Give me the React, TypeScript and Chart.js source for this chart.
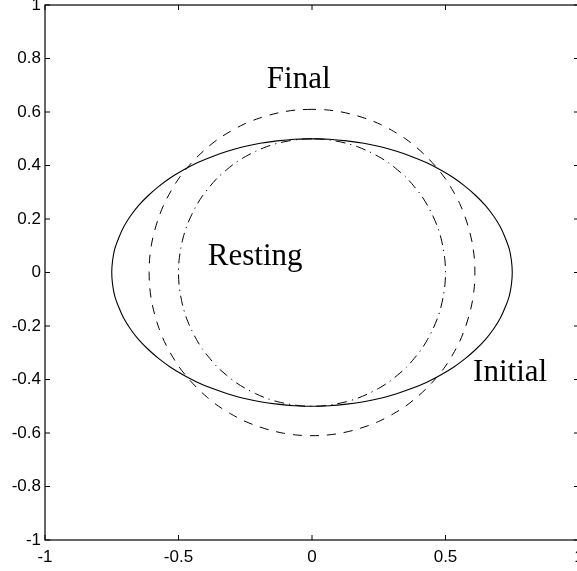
import React, { useEffect, useRef } from "react";
import { Chart, registerables } from "chart.js";

Chart.register(...registerables);

// Outline of the initial (elliptical) shape, sampled every 5 degrees from the top
const initialX = [
  0, -0.065, -0.13, -0.194, -0.257, -0.317, -0.375, -0.43, -0.482, -0.53, -0.575, -0.614, -0.65, -0.68, -0.705, -0.724, -0.739, -0.747, -0.75,
  -0.747, -0.739, -0.724, -0.705, -0.68, -0.65, -0.614, -0.575, -0.53, -0.482, -0.43, -0.375, -0.317, -0.257, -0.194, -0.13, -0.065, 0,
  0.065, 0.13, 0.194, 0.257, 0.317, 0.375, 0.43, 0.482, 0.53, 0.575, 0.614, 0.65, 0.68, 0.705, 0.724, 0.739, 0.747, 0.75,
  0.747, 0.739, 0.724, 0.705, 0.68, 0.65, 0.614, 0.575, 0.53, 0.482, 0.43, 0.375, 0.317, 0.257, 0.194, 0.13, 0.065, 0,
];
const initialY = [
  0.5, 0.498, 0.492, 0.483, 0.47, 0.453, 0.433, 0.41, 0.383, 0.354, 0.321, 0.287, 0.25, 0.211, 0.171, 0.129, 0.087, 0.044, 0,
  -0.044, -0.087, -0.129, -0.171, -0.211, -0.25, -0.287, -0.321, -0.354, -0.383, -0.41, -0.433, -0.453, -0.47, -0.483, -0.492, -0.498, -0.5,
  -0.498, -0.492, -0.483, -0.47, -0.453, -0.433, -0.41, -0.383, -0.354, -0.321, -0.287, -0.25, -0.211, -0.171, -0.129, -0.087, -0.044, 0,
  0.044, 0.087, 0.129, 0.171, 0.211, 0.25, 0.287, 0.321, 0.354, 0.383, 0.41, 0.433, 0.453, 0.47, 0.483, 0.492, 0.498, 0.5,
];

// Final shape (dashed)
const finalX = [
  0, -0.053, -0.106, -0.158, -0.209, -0.258, -0.305, -0.35, -0.392, -0.431, -0.467, -0.5, -0.528, -0.553, -0.573, -0.589, -0.601, -0.608, -0.61,
  -0.608, -0.601, -0.589, -0.573, -0.553, -0.528, -0.5, -0.467, -0.431, -0.392, -0.35, -0.305, -0.258, -0.209, -0.158, -0.106, -0.053, 0,
  0.053, 0.106, 0.158, 0.209, 0.258, 0.305, 0.35, 0.392, 0.431, 0.467, 0.5, 0.528, 0.553, 0.573, 0.589, 0.601, 0.608, 0.61,
  0.608, 0.601, 0.589, 0.573, 0.553, 0.528, 0.5, 0.467, 0.431, 0.392, 0.35, 0.305, 0.258, 0.209, 0.158, 0.106, 0.053, 0,
];
const finalY = [
  0.61, 0.608, 0.601, 0.589, 0.573, 0.553, 0.528, 0.5, 0.467, 0.431, 0.392, 0.35, 0.305, 0.258, 0.209, 0.158, 0.106, 0.053, 0,
  -0.053, -0.106, -0.158, -0.209, -0.258, -0.305, -0.35, -0.392, -0.431, -0.467, -0.5, -0.528, -0.553, -0.573, -0.589, -0.601, -0.608, -0.61,
  -0.608, -0.601, -0.589, -0.573, -0.553, -0.528, -0.5, -0.467, -0.431, -0.392, -0.35, -0.305, -0.258, -0.209, -0.158, -0.106, -0.053, 0,
  0.053, 0.106, 0.158, 0.209, 0.258, 0.305, 0.35, 0.392, 0.431, 0.467, 0.5, 0.528, 0.553, 0.573, 0.589, 0.601, 0.608, 0.61,
];

// Resting shape (dash-dot)
const restingX = [
  0, -0.044, -0.087, -0.129, -0.171, -0.211, -0.25, -0.287, -0.321, -0.354, -0.383, -0.41, -0.433, -0.453, -0.47, -0.483, -0.492, -0.498, -0.5,
  -0.498, -0.492, -0.483, -0.47, -0.453, -0.433, -0.41, -0.383, -0.354, -0.321, -0.287, -0.25, -0.211, -0.171, -0.129, -0.087, -0.044, 0,
  0.044, 0.087, 0.129, 0.171, 0.211, 0.25, 0.287, 0.321, 0.354, 0.383, 0.41, 0.433, 0.453, 0.47, 0.483, 0.492, 0.498, 0.5,
  0.498, 0.492, 0.483, 0.47, 0.453, 0.433, 0.41, 0.383, 0.354, 0.321, 0.287, 0.25, 0.211, 0.171, 0.129, 0.087, 0.044, 0,
];
const restingY = [
  0.5, 0.498, 0.492, 0.483, 0.47, 0.453, 0.433, 0.41, 0.383, 0.354, 0.321, 0.287, 0.25, 0.211, 0.171, 0.129, 0.087, 0.044, 0,
  -0.044, -0.087, -0.129, -0.171, -0.211, -0.25, -0.287, -0.321, -0.354, -0.383, -0.41, -0.433, -0.453, -0.47, -0.483, -0.492, -0.498, -0.5,
  -0.498, -0.492, -0.483, -0.47, -0.453, -0.433, -0.41, -0.383, -0.354, -0.321, -0.287, -0.25, -0.211, -0.171, -0.129, -0.087, -0.044, 0,
  0.044, 0.087, 0.129, 0.171, 0.211, 0.25, 0.287, 0.321, 0.354, 0.383, 0.41, 0.433, 0.453, 0.47, 0.483, 0.492, 0.498, 0.5,
];

// Curve annotations (centre x, baseline y in data units)
const labelTexts = ["Final", "Resting", "Initial"];
const labelX = [-0.05, -0.213, 0.742];
const labelY = [0.688, 0.029, -0.406];

const toPoints = (xs: number[], ys: number[]) => xs.map((x, i) => ({ x, y: ys[i] }));
const fmtTick = (v: number | string) => String(Math.round(Number(v) * 10) / 10);

const TICK_LEN = 5;

const boxPlugin = {
  id: "boxAndLabels",
  afterDraw(chart: any) {
    const { ctx, chartArea: a, scales } = chart;
    const xs = scales.x;
    const ys = scales.y;
    ctx.save();
    ctx.strokeStyle = "#000";
    ctx.lineWidth = 1.2;
    ctx.setLineDash([]);
    ctx.strokeRect(a.left, a.top, a.right - a.left, a.bottom - a.top);
    ctx.beginPath();
    xs.ticks.forEach((t: any) => {
      const px = xs.getPixelForValue(t.value);
      ctx.moveTo(px, a.bottom);
      ctx.lineTo(px, a.bottom - TICK_LEN);
      ctx.moveTo(px, a.top);
      ctx.lineTo(px, a.top + TICK_LEN);
    });
    ys.ticks.forEach((t: any) => {
      const py = ys.getPixelForValue(t.value);
      ctx.moveTo(a.left, py);
      ctx.lineTo(a.left + TICK_LEN, py);
      ctx.moveTo(a.right, py);
      ctx.lineTo(a.right - TICK_LEN, py);
    });
    ctx.lineWidth = 1;
    ctx.stroke();

    ctx.fillStyle = "#000";
    ctx.font = '31px "Liberation Serif", serif';
    ctx.textAlign = "center";
    ctx.textBaseline = "alphabetic";
    labelTexts.forEach((txt, i) => {
      ctx.fillText(txt, xs.getPixelForValue(labelX[i]), ys.getPixelForValue(labelY[i]));
    });
    ctx.restore();
  },
};

export default function App() {
  const ref = useRef<HTMLCanvasElement | null>(null);

  useEffect(() => {
    if (!ref.current) return;
    const tickFont = { family: '"Liberation Sans", Arial, sans-serif', size: 17 };
    const line = (data: { x: number; y: number }[], dash: number[], width: number) => ({
      data,
      showLine: true,
      borderColor: "#000",
      borderWidth: width,
      borderDash: dash,
      pointRadius: 0,
      tension: 0.3,
    });
    const chart = new Chart(ref.current, {
      type: "scatter",
      data: {
        datasets: [
          { label: "Initial", ...line(toPoints(initialX, initialY), [], 1.1) },
          { label: "Final", ...line(toPoints(finalX, finalY), [9, 8], 1) },
          { label: "Resting", ...line(toPoints(restingX, restingY), [10, 5, 1.2, 5], 1) },
        ],
      },
      options: {
        animation: false,
        responsive: true,
        maintainAspectRatio: false,
        layout: { padding: { top: 5, right: 11, left: 0, bottom: 0 } },
        plugins: { legend: { display: false }, tooltip: { enabled: false } },
        scales: {
          x: {
            type: "linear",
            min: -1,
            max: 1,
            grid: { display: false, drawTicks: false },
            border: { display: false },
            ticks: { stepSize: 0.5, color: "#000", font: tickFont, padding: 7, maxRotation: 0, callback: fmtTick },
            afterFit: (s: any) => {
              s.height = 31;
              s.paddingLeft = 0;
              s.paddingRight = 0;
            },
          },
          y: {
            type: "linear",
            min: -1,
            max: 1,
            grid: { display: false, drawTicks: false },
            border: { display: false },
            ticks: { stepSize: 0.2, color: "#000", font: tickFont, padding: 4, callback: fmtTick },
            afterFit: (s: any) => {
              s.width = 45;
              s.paddingTop = 0;
              s.paddingBottom = 0;
            },
          },
        },
      },
      plugins: [boxPlugin],
    });
    return () => chart.destroy();
  }, []);

  return (
    <>
      <style>{`html,body{margin:0;padding:0;overflow:hidden;background:#fff}`}</style>
      <div style={{ position: "relative", width: 590, height: 571 }}>
        <canvas ref={ref} />
      </div>
    </>
  );
}
